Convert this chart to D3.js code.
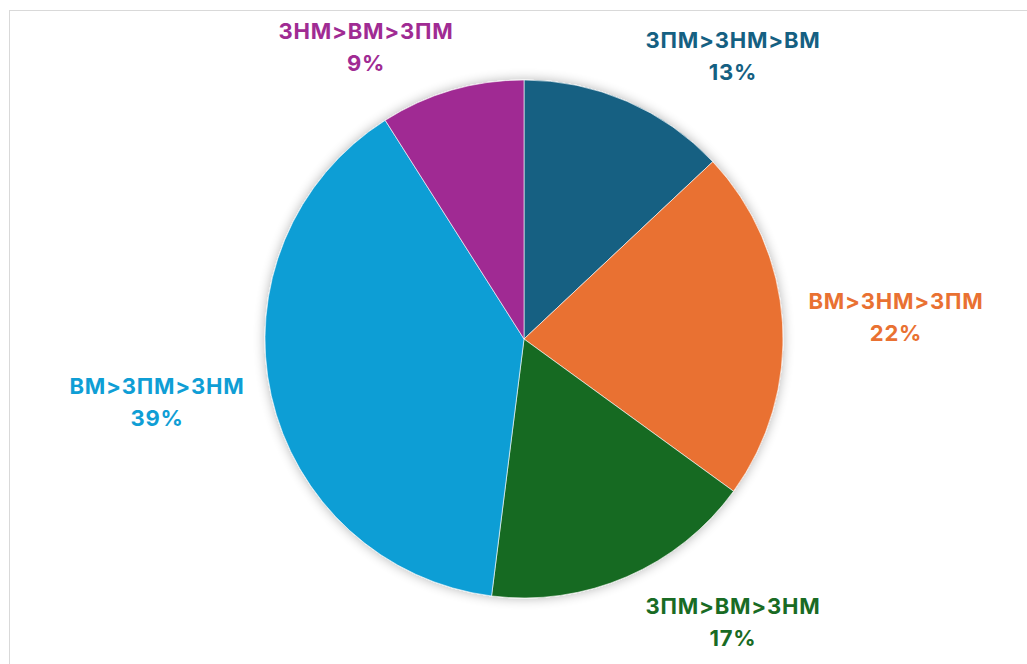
<!DOCTYPE html>
<html>
<head>
<meta charset="utf-8">
<script src="https://cdn.jsdelivr.net/npm/d3@7"></script>
<style>
  body { margin: 0; background: #fff; }
  svg { display: block; font-family: Inter, "Open Sans", sans-serif; }
</style>
</head>
<body>
<svg width="1027" height="664"></svg>
<script>
// Data
var categories = ["ЗПМ>ЗНМ>ВМ", "ВМ>ЗНМ>ЗПМ", "ЗПМ>ВМ>ЗНМ", "ВМ>ЗПМ>ЗНМ", "ЗНМ>ВМ>ЗПМ"];
var shares = [13, 22, 17, 39, 9];
var colors = ["#156082", "#E97132", "#196B24", "#0F9ED5", "#A02B93"];

// Layout
var w = 1027, h = 664;
var cx = 524, cy = 339, radius = 259;

// label anchor points (centre of the two-line label)
var labelPos = [[733, 56], [896, 317], [733, 622], [157, 402], [366, 47]];

var svg = d3.select("svg");

// chart area border
svg.append("rect")
    .attr("x", 9.5)
    .attr("y", 10.5)
    .attr("width", w)
    .attr("height", h)
    .attr("fill", "none")
    .attr("stroke", "#d9d9d9")
    .attr("stroke-width", 1);

var defs = svg.append("defs");
var f = defs.append("filter")
    .attr("id", "shadow")
    .attr("x", "-20%").attr("y", "-20%")
    .attr("width", "140%").attr("height", "140%");
f.append("feGaussianBlur").attr("in", "SourceAlpha").attr("stdDeviation", 6).attr("result", "b");
f.append("feComponentTransfer").attr("in", "b").attr("result", "s")
  .append("feFuncA").attr("type", "linear").attr("slope", 0.3);
var m = f.append("feMerge");
m.append("feMergeNode").attr("in", "s");
m.append("feMergeNode").attr("in", "SourceGraphic");

var pie = d3.pie().sort(null).value(function(d) { return d; });
var arc = d3.arc().innerRadius(0).outerRadius(radius);

var g = svg.append("g")
    .attr("transform", "translate(" + cx + "," + cy + ")");

g.append("g")
    .attr("filter", "url(#shadow)")
  .selectAll("path")
  .data(pie(shares))
  .enter().append("path")
    .attr("d", arc)
    .attr("fill", function(d, i) { return colors[i]; })
    .attr("stroke", "#ffffff")
    .attr("stroke-opacity", 0.6)
    .attr("stroke-width", 1);

// labels
var labels = svg.selectAll("text.lbl")
  .data(categories)
  .enter().append("text")
    .attr("class", "lbl")
    .attr("text-anchor", "middle")
    .attr("fill", function(d, i) { return colors[i]; })
    .style("font-size", "22px")
    .style("font-weight", "700")
    .style("letter-spacing", "0.8px");

labels.append("tspan")
    .attr("x", function(d, i) { return labelPos[i][0]; })
    .attr("y", function(d, i) { return labelPos[i][1] - 8; })
    .text(function(d) { return d; });

labels.append("tspan")
    .attr("x", function(d, i) { return labelPos[i][0]; })
    .attr("y", function(d, i) { return labelPos[i][1] + 24; })
    .text(function(d, i) { return shares[i] + "%"; });
</script>
</body>
</html>
